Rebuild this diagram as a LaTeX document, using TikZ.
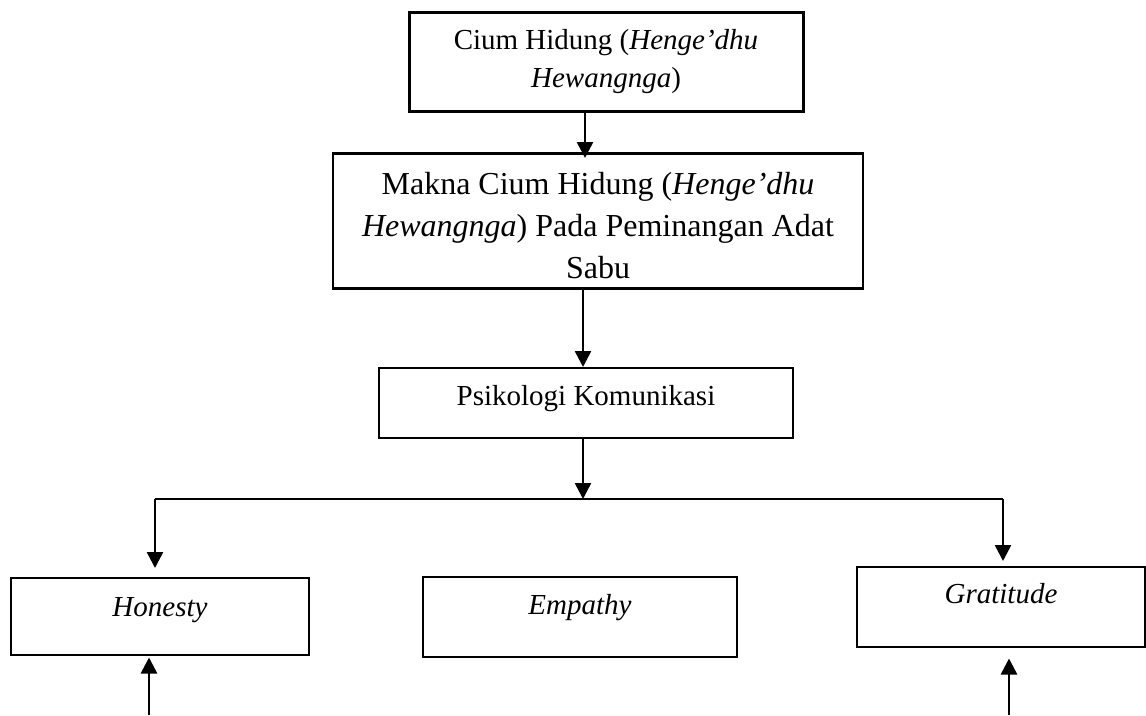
\documentclass[tikz,border=0pt]{standalone}
\usepackage{fontspec}
\setmainfont{Liberation Serif}
\usetikzlibrary{arrows.meta}
\tikzset{
  box/.style={draw=black, anchor=north, inner xsep=0pt, inner ysep=0pt, align=center},
  smallfont/.style={font=\fontsize{29}{38}\selectfont},
  bigfont/.style={font=\fontsize{32}{42}\selectfont},
  arr/.style={line width=2.6pt, -{Triangle[width=16pt,length=16pt]}},
  conn/.style={line width=1.8pt}
}
\begin{document}
\begin{tikzpicture}[x=1pt,y=-1pt]
\useasboundingbox (0,0) rectangle (1146,715);
% boxes
\node[box, line width=3pt, minimum width=394pt, text height=37pt, text depth=62pt] (b1) at (606,11)
  {\parbox[t]{380pt}{\centering\fontsize{29}{38}\selectfont Cium Hidung (\textit{Henge’dhu}\\ \textit{Hewangnga})}};
\node[box, line width=2.6pt, minimum width=530pt, text height=41pt, text depth=94pt] (b2) at (598,152)
  {\parbox[t]{520pt}{\centering\fontsize{32}{42}\selectfont Makna Cium Hidung (\textit{Henge’dhu}\\ \textit{Hewangnga}) Pada Peminangan Adat\\ Sabu}};
\node[box, smallfont, line width=1.5pt, minimum width=414pt, text height=38pt, text depth=32pt] (b3) at (586,367) {Psikologi Komunikasi};
\node[box, smallfont, line width=1.5pt, minimum width=298pt, text height=39pt, text depth=38pt] (hon) at (160,577) {\textit{Honesty}};
\node[box, smallfont, line width=1.5pt, minimum width=314pt, text height=38pt, text depth=42pt] (emp) at (580,576) {\textit{Empathy}};
\node[box, smallfont, line width=1.5pt, minimum width=288pt, text height=37pt, text depth=43pt] (gra) at (1001,566) {\textit{Gratitude}};
% coordinates
\coordinate (x1) at (585,0);
\coordinate (x2) at (583,0);
\coordinate (j) at (583,499);
\coordinate (jl) at (155,499);
\coordinate (jr) at (1003,499);
\coordinate (hb) at (149,715);
\coordinate (gb) at (1009,715);
% connectors
\draw[arr, shorten >=-6pt] (b1.south -| x1) -- (b2.north -| x1);
\draw[arr] (b2.south -| x2) -- (b3.north -| x2);
\draw[arr] (b3.south -| x2) -- (j);
\draw[conn] (jl) -- (jr);
\draw[arr, shorten >=9pt] (jl) -- (jl |- hon.north);
\draw[arr, shorten >=5pt] (jr) -- (jr |- gra.north);
\draw[arr, shorten >=2pt] (hb) -- (hb |- hon.south);
\draw[arr, shorten >=11pt] (gb) -- (gb |- gra.south);
\end{tikzpicture}
\end{document}
